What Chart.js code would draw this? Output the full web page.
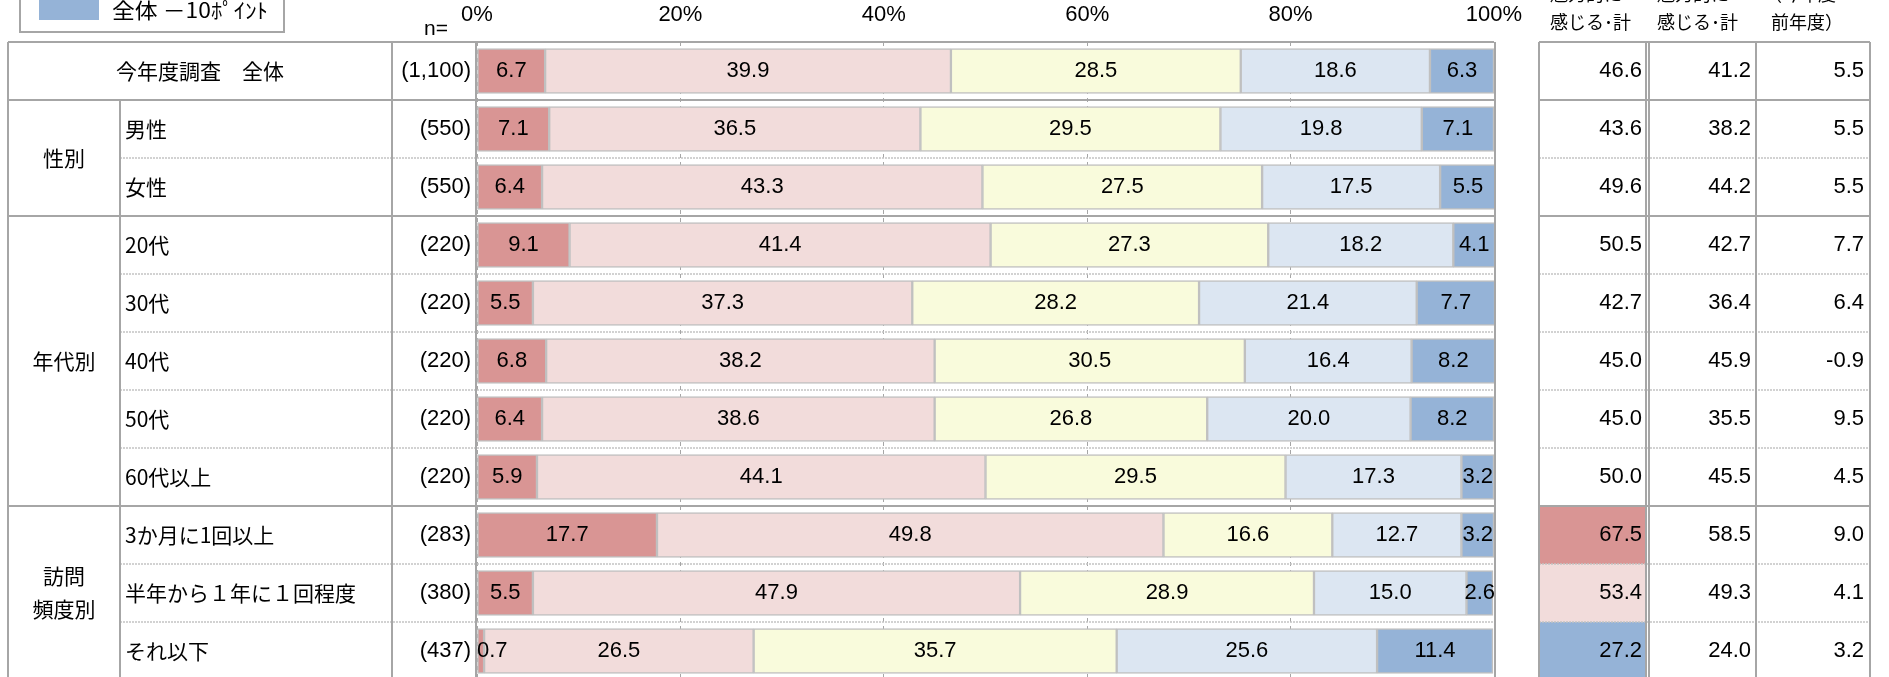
<!DOCTYPE html>
<html lang="ja">
<head>
<meta charset="utf-8">
<script src="https://cdn.jsdelivr.net/npm/chart.js@4.4.1/dist/chart.umd.min.js"></script>
<style>
  html, body { margin: 0; padding: 0; background: #fff; overflow: hidden; }
  #wrap { position: absolute; left: 0; top: -60px; width: 1889px; height: 760px; }
</style>
</head>
<body>
<div id="wrap"><canvas id="chart" width="1889" height="760"></canvas></div>
<script>
// rows of the table, top to bottom
var rowLabels = ['今年度調査　全体', '男性', '女性', '20代', '30代', '40代', '50代', '60代以上',
                 '3か月に1回以上', '半年から１年に１回程度', 'それ以下'];
var sampleSizes = ['(1,100)', '(550)', '(550)', '(220)', '(220)', '(220)', '(220)', '(220)',
                   '(283)', '(380)', '(437)'];
var groupNames = [['性別'], ['年代別'], ['訪問', '頻度別']];
var groupRows = [[1, 2], [3, 7], [8, 10]];

// answer shares (%)
var kanjiru      = [6.7, 7.1, 6.4, 9.1, 5.5, 6.8, 6.4, 5.9, 17.7, 5.5, 0.7];
var yayaKanjiru  = [39.9, 36.5, 43.3, 41.4, 37.3, 38.2, 38.6, 44.1, 49.8, 47.9, 26.5];
var dochiramo    = [28.5, 29.5, 27.5, 27.3, 28.2, 30.5, 26.8, 29.5, 16.6, 28.9, 35.7];
var amari        = [18.6, 19.8, 17.5, 18.2, 21.4, 16.4, 20.0, 17.3, 12.7, 15.0, 25.6];
var kanjinai     = [6.3, 7.1, 5.5, 4.1, 7.7, 8.2, 8.2, 3.2, 3.2, 2.6, 11.4];

// right-hand table
var thisYearTotal = [46.6, 43.6, 49.6, 50.5, 42.7, 45.0, 45.0, 50.0, 67.5, 53.4, 27.2];
var lastYearTotal = [41.2, 38.2, 44.2, 42.7, 36.4, 45.9, 35.5, 45.5, 58.5, 49.3, 24.0];
var yearDiff      = [5.5, 5.5, 5.5, 7.7, 6.4, -0.9, 9.5, 4.5, 9.0, 4.1, 3.2];

var xTicks = [0, 20, 40, 60, 80, 100];

var segColors = ['#d99594', '#f2dcdb', '#f9fbdc', '#dce6f2', '#95b3d7'];
var LINE = '#a6a6a6';
var NUM_FONT = "22px 'Liberation Sans', Arial, sans-serif";
var JP_FONT = "21px 'Noto Sans CJK JP', sans-serif";
var HEAD_FONT = "18px 'Noto Sans CJK JP', sans-serif";

function mark(v) {
  var d = v - thisYearTotal[0];
  if (d >= 10) return '#d99594';
  if (d >= 5) return '#f2dcdb';
  if (d <= -10) return '#95b3d7';
  if (d <= -5) return '#dce6f2';
  return null;
}

function hline(ctx, x1, x2, y, dotted) {
  ctx.save();
  ctx.beginPath();
  if (dotted) { ctx.setLineDash([2, 1]); ctx.strokeStyle = '#c4c4c4'; ctx.lineWidth = 1.5; }
  else { ctx.strokeStyle = LINE; ctx.lineWidth = 2; }
  ctx.moveTo(x1, y); ctx.lineTo(x2, y);
  ctx.stroke();
  ctx.restore();
}
function vline(ctx, x, y1, y2) {
  ctx.save();
  ctx.beginPath();
  ctx.strokeStyle = LINE; ctx.lineWidth = 2;
  ctx.moveTo(x, y1); ctx.lineTo(x, y2);
  ctx.stroke();
  ctx.restore();
}
// text squeezed or stretched to a given width
function fitText(ctx, t, x, y, w) {
  var m = ctx.measureText(t).width;
  ctx.save();
  ctx.translate(x, y);
  ctx.scale(w / m, 1);
  ctx.fillText(t, 0, 0);
  ctx.restore();
}

var tablePlugin = {
  id: 'surveyTable',
  beforeDatasetsDraw: function(chart) {
    var ctx = chart.ctx, ys = chart.scales.y, xs = chart.scales.x;
    var half = (ys.getPixelForValue(1) - ys.getPixelForValue(0)) / 2;
    var rowTop = function(i) { return ys.getPixelForValue(i) - half; };
    var n = rowLabels.length;
    var bottom = rowTop(n);
    var L0 = 8, L1 = 120, L2 = 392, L3 = xs.left - 1;
    var R0 = 1539, R1 = 1646, R1b = 1649, R2 = 1756, R3 = 1870;

    // highlighted cells
    for (var i = 1; i < n; i++) {
      var c = mark(thisYearTotal[i]);
      if (c) {
        ctx.fillStyle = c;
        ctx.fillRect(R0, rowTop(i), R1 - R0, 2 * half);
      }
    }

    // horizontal rules
    var groupEnd = {0: true, 2: true, 7: true};
    hline(ctx, L0, xs.right, rowTop(0), false);
    hline(ctx, R0, R3, rowTop(0), false);
    for (var r = 1; r < n; r++) {
      var y = rowTop(r);
      if (groupEnd[r - 1]) {
        hline(ctx, L0, xs.right, y, false);
        hline(ctx, R0, R3, y, false);
      } else {
        hline(ctx, L1, xs.right, y, true);
        hline(ctx, R0, R3, y, true);
      }
    }

    // vertical rules
    vline(ctx, L0, rowTop(0), bottom);
    vline(ctx, L1, rowTop(1), bottom);
    vline(ctx, L2, rowTop(0), bottom);
    vline(ctx, L3, rowTop(0), bottom);
    vline(ctx, xs.right + 1, rowTop(0), bottom);
    [R0, R1, R1b, R2, R3].forEach(function(x) { vline(ctx, x, rowTop(0), bottom); });

    ctx.save();
    ctx.fillStyle = '#000';
    ctx.textBaseline = 'middle';
    for (var k = 0; k < n; k++) {
      var cy = ys.getPixelForValue(k);
      ctx.font = JP_FONT;
      if (k === 0) {
        ctx.textAlign = 'center';
        ctx.fillText(rowLabels[k], (L0 + L2) / 2, cy);
      } else {
        ctx.textAlign = 'left';
        ctx.fillText(rowLabels[k], L1 + 5, cy);
      }
      ctx.font = NUM_FONT;
      ctx.textAlign = 'right';
      ctx.fillText(sampleSizes[k], L3 - 5, cy);
      ctx.fillText(thisYearTotal[k].toFixed(1), R1 - 4, cy);
      ctx.fillText(lastYearTotal[k].toFixed(1), R2 - 5, cy);
      ctx.fillText(yearDiff[k].toFixed(1), R3 - 6, cy);
    }
    ctx.font = JP_FONT;
    ctx.textAlign = 'center';
    groupNames.forEach(function(lines, g) {
      var mid = (rowTop(groupRows[g][0]) + rowTop(groupRows[g][1] + 1)) / 2;
      var lh = 33;
      lines.forEach(function(t, j) {
        ctx.fillText(t, (L0 + L1) / 2, mid + (j - (lines.length - 1) / 2) * lh);
      });
    });

    // column headers above the table
    var top = rowTop(0);
    ctx.textAlign = 'left';
    ctx.font = "21px 'Liberation Sans', Arial, sans-serif";
    ctx.fillText('n=', 424, top - 13);
    ctx.font = HEAD_FONT;
    ctx.fillText('魅力的に', 1550, top - 48);
    ctx.fillText('感じる･計', 1550, top - 20);
    ctx.fillText('魅力的に', 1657, top - 48);
    ctx.fillText('感じる･計', 1657, top - 20);
    ctx.fillText('（今年度－', 1764, top - 48);
    ctx.fillText('前年度）', 1771, top - 20);

    // legend box (only its lower edge falls inside the page)
    ctx.strokeStyle = LINE;
    ctx.lineWidth = 2;
    ctx.strokeRect(20, top - 110, 264, 100);
    ctx.fillStyle = '#95b3d7';
    ctx.fillRect(39, top - 46, 60, 24);
    ctx.fillStyle = '#000';
    ctx.font = JP_FONT;
    fitText(ctx, '全体 －10ﾎﾟｲﾝﾄ', 112, top - 32, 156);
    ctx.restore();
  },
  afterDatasetsDraw: function(chart) {
    var ctx = chart.ctx, xs = chart.scales.x;
    ctx.save();
    ctx.font = NUM_FONT;
    ctx.fillStyle = '#000';
    ctx.textAlign = 'center';
    ctx.textBaseline = 'middle';
    chart.data.datasets.forEach(function(ds, di) {
      chart.getDatasetMeta(di).data.forEach(function(bar, i) {
        var t = ds.data[i].toFixed(1);
        var w = ctx.measureText(t).width;
        var cx = Math.max((bar.x + bar.base) / 2, xs.left + w / 2);
        ctx.fillText(t, cx, bar.y);
      });
    });
    ctx.restore();
  }
};

var segments = [kanjiru, yayaKanjiru, dochiramo, amari, kanjinai];
var segNames = ['感じる', 'やや感じる', 'どちらともいえない', 'あまり感じない', '感じない'];

new Chart(document.getElementById('chart'), {
  type: 'bar',
  data: {
    labels: rowLabels,
    datasets: segments.map(function(d, i) {
      return {
        label: segNames[i],
        data: d,
        backgroundColor: segColors[i],
        borderColor: '#c0c0c0',
        borderWidth: 1.5,
        borderSkipped: false,
        barThickness: 45
      };
    })
  },
  options: {
    indexAxis: 'y',
    responsive: false,
    animation: false,
    events: [],
    layout: { padding: { left: 477, right: 395, top: 60, bottom: 20 } },
    plugins: { legend: { display: false }, tooltip: { enabled: false } },
    scales: {
      x: {
        stacked: true,
        position: 'top',
        min: 0,
        max: 100,
        afterFit: function(s) { s.height = 42; },
        afterBuildTicks: function(s) { s.ticks = xTicks.map(function(v) { return { value: v }; }); },
        ticks: {
          padding: 14,
          color: '#000',
          font: { family: "'Liberation Sans', Arial, sans-serif", size: 22 },
          callback: function(v) { return v + '%'; }
        },
        grid: { color: '#a6a6a6', drawTicks: false, lineWidth: 1 },
        border: { display: false, dash: [4, 4] }
      },
      y: {
        stacked: true,
        display: false
      }
    }
  },
  plugins: [tablePlugin]
});
</script>
</body>
</html>
